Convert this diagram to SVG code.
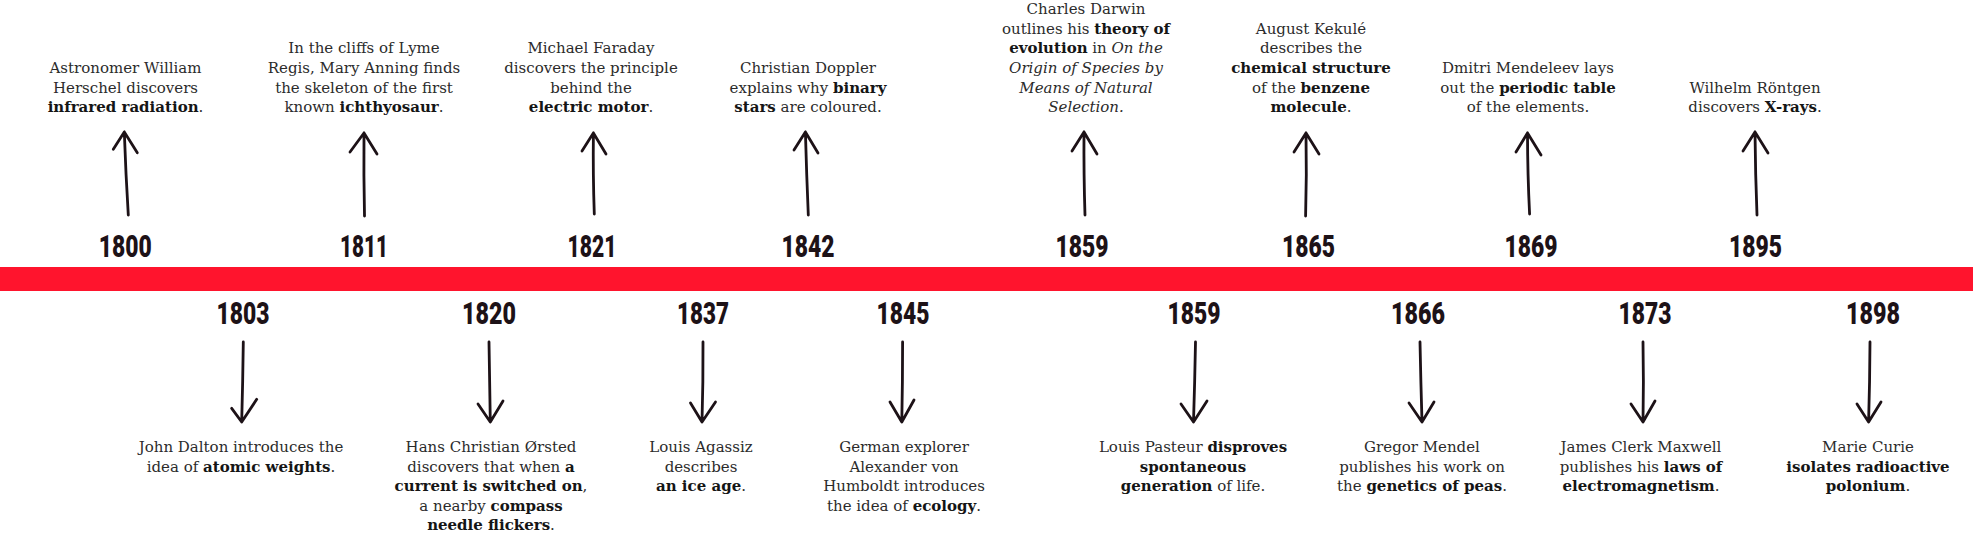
<svg xmlns="http://www.w3.org/2000/svg" width="1973" height="533" viewBox="0 0 1973 533">
<style>
.t{font-family:"DejaVu Serif","Liberation Serif",serif;font-size:15px;fill:#2b2b2b;text-anchor:middle}
.b{font-weight:bold;fill:#151515}
.i{font-style:italic}
.y{font-family:Roboto,"DejaVu Sans",sans-serif;font-weight:900;font-size:31px;fill:#1d1217;text-anchor:middle}
.a{fill:none;stroke:#1d1217;stroke-width:2.8;stroke-linecap:round;stroke-linejoin:round}
</style>
<rect id="timeline" x="0" y="267" width="1973" height="24" fill="#ff142d"/>
<g id="connectors">
<path class="a" d="M128.3,215 Q125.8,175 124.3,132 M113.3,149.3 L124.3,132 L137.3,152.7"/>
<path class="a" d="M364.5,216 Q363.6,175 364,133 M350,152 L364,133 L377,154"/>
<path class="a" d="M594.3,214 Q592.9,175 593.4,133 M582,151 L593.4,133 L606,154"/>
<path class="a" d="M808.3,215 Q806.6,175 805.4,132 M794,150 L805.4,132 L818,153"/>
<path class="a" d="M1085,215 Q1083.7,175 1084,132 M1072,151 L1084,132 L1097,154"/>
<path class="a" d="M1305.6,216 Q1306.8,175 1306,133 M1294,152 L1306,133 L1319,154"/>
<path class="a" d="M1529.6,214 Q1527.6,175 1527.5,133 M1516,152 L1527.5,133 L1541,155"/>
<path class="a" d="M1757,215 Q1755.4,175 1755,132 M1743,151 L1755,132 L1768,153"/>
<path class="a" d="M243.3,342 Q242.8,382 241.7,422 M231.7,408.3 L241.7,422 L256.7,399.3"/>
<path class="a" d="M489,342 Q489.5,382 490.3,422 M478,404 L490.3,422 L503,401"/>
<path class="a" d="M703,342 Q703.2,382 702,422 M690.5,403 L702,422 L715.5,402"/>
<path class="a" d="M902.6,342 Q902.6,382 901.8,422 M890,402 L901.8,422 L914,400"/>
<path class="a" d="M1195.5,342 Q1194.8,382 1193.5,422 M1181,404 L1193.5,422 L1207,401"/>
<path class="a" d="M1420,342 Q1420.8,382 1422,422 M1409,403 L1422,422 L1434,402"/>
<path class="a" d="M1643,342 Q1643.8,382 1643,422 M1631,404 L1643,422 L1655,401"/>
<path class="a" d="M1870,342 Q1869.8,382 1868.6,422 M1857,404 L1868.6,422 L1881,402"/>
</g>
<g id="e1800">
<text class="y" x="125.3" y="256.7" textLength="53" lengthAdjust="spacingAndGlyphs">1800</text>
<text class="t" x="125.5" y="73">Astronomer William</text>
<text class="t" x="125.5" y="92.7">Herschel discovers</text>
<text class="t" x="125.5" y="112.3"><tspan class="b">infrared radiation</tspan>.</text>
</g>
<g id="e1811">
<text class="y" x="364" y="256.7" textLength="48" lengthAdjust="spacingAndGlyphs">1811</text>
<text class="t" x="364" y="53.3">In the cliffs of Lyme</text>
<text class="t" x="364" y="73">Regis, Mary Anning finds</text>
<text class="t" x="364" y="92.7">the skeleton of the first</text>
<text class="t" x="364" y="112.3">known <tspan class="b">ichthyosaur</tspan>.</text>
</g>
<g id="e1821">
<text class="y" x="592" y="256.7" textLength="49" lengthAdjust="spacingAndGlyphs">1821</text>
<text class="t" x="591" y="53.3">Michael Faraday</text>
<text class="t" x="591" y="73">discovers the principle</text>
<text class="t" x="591" y="92.7">behind the</text>
<text class="t" x="591" y="112.3"><tspan class="b">electric motor</tspan>.</text>
</g>
<g id="e1842">
<text class="y" x="808" y="256.7" textLength="53" lengthAdjust="spacingAndGlyphs">1842</text>
<text class="t" x="808" y="73">Christian Doppler</text>
<text class="t" x="808" y="92.7">explains why <tspan class="b">binary</tspan></text>
<text class="t" x="808" y="112.3"><tspan class="b">stars</tspan> are coloured.</text>
</g>
<g id="e1859a">
<text class="y" x="1082" y="256.7" textLength="53" lengthAdjust="spacingAndGlyphs">1859</text>
<text class="t" x="1086" y="14">Charles Darwin</text>
<text class="t" x="1086" y="33.5">outlines his <tspan class="b">theory of</tspan></text>
<text class="t" x="1086" y="53.3"><tspan class="b">evolution</tspan> in <tspan class="i">On the</tspan></text>
<text class="t i" x="1086" y="73">Origin of Species by</text>
<text class="t i" x="1086" y="92.7">Means of Natural</text>
<text class="t i" x="1086" y="112.3">Selection.</text>
</g>
<g id="e1865">
<text class="y" x="1308.5" y="256.7" textLength="53" lengthAdjust="spacingAndGlyphs">1865</text>
<text class="t" x="1311" y="33.5">August Kekulé</text>
<text class="t" x="1311" y="53.3">describes the</text>
<text class="t" x="1311" y="73"><tspan class="b">chemical structure</tspan></text>
<text class="t" x="1311" y="92.7">of the <tspan class="b">benzene</tspan></text>
<text class="t" x="1311" y="112.3"><tspan class="b">molecule</tspan>.</text>
</g>
<g id="e1869">
<text class="y" x="1531" y="256.7" textLength="53" lengthAdjust="spacingAndGlyphs">1869</text>
<text class="t" x="1528" y="73">Dmitri Mendeleev lays</text>
<text class="t" x="1528" y="92.7">out the <tspan class="b">periodic table</tspan></text>
<text class="t" x="1528" y="112.3">of the elements.</text>
</g>
<g id="e1895">
<text class="y" x="1755.6" y="256.7" textLength="53" lengthAdjust="spacingAndGlyphs">1895</text>
<text class="t" x="1755" y="92.7">Wilhelm Röntgen</text>
<text class="t" x="1755" y="112.3">discovers <tspan class="b">X-rays</tspan>.</text>
</g>
<g id="e1803">
<text class="y" x="243" y="324" textLength="53" lengthAdjust="spacingAndGlyphs">1803</text>
<text class="t" x="241" y="452.3">John Dalton introduces the</text>
<text class="t" x="241" y="471.7">idea of <tspan class="b">atomic weights</tspan>.</text>
</g>
<g id="e1820">
<text class="y" x="489" y="324" textLength="54" lengthAdjust="spacingAndGlyphs">1820</text>
<text class="t" x="491" y="452.3">Hans Christian Ørsted</text>
<text class="t" x="491" y="471.7">discovers that when <tspan class="b">a</tspan></text>
<text class="t" x="491" y="491.2"><tspan class="b">current is switched on</tspan>,</text>
<text class="t" x="491" y="510.8">a nearby <tspan class="b">compass</tspan></text>
<text class="t" x="491" y="530.3"><tspan class="b">needle flickers</tspan>.</text>
</g>
<g id="e1837">
<text class="y" x="703" y="324" textLength="52" lengthAdjust="spacingAndGlyphs">1837</text>
<text class="t" x="701" y="452.3">Louis Agassiz</text>
<text class="t" x="701" y="471.7">describes</text>
<text class="t" x="701" y="491.2"><tspan class="b">an ice age</tspan>.</text>
</g>
<g id="e1845">
<text class="y" x="903" y="324" textLength="53" lengthAdjust="spacingAndGlyphs">1845</text>
<text class="t" x="904" y="452.3">German explorer</text>
<text class="t" x="904" y="471.7">Alexander von</text>
<text class="t" x="904" y="491.2">Humboldt introduces</text>
<text class="t" x="904" y="510.8">the idea of <tspan class="b">ecology</tspan>.</text>
</g>
<g id="e1859b">
<text class="y" x="1194" y="324" textLength="53" lengthAdjust="spacingAndGlyphs">1859</text>
<text class="t" x="1193" y="452.3">Louis Pasteur <tspan class="b">disproves</tspan></text>
<text class="t" x="1193" y="471.7"><tspan class="b">spontaneous</tspan></text>
<text class="t" x="1193" y="491.2"><tspan class="b">generation</tspan> of life.</text>
</g>
<g id="e1866">
<text class="y" x="1418" y="324" textLength="54" lengthAdjust="spacingAndGlyphs">1866</text>
<text class="t" x="1422" y="452.3">Gregor Mendel</text>
<text class="t" x="1422" y="471.7">publishes his work on</text>
<text class="t" x="1422" y="491.2">the <tspan class="b">genetics of peas</tspan>.</text>
</g>
<g id="e1873">
<text class="y" x="1645" y="324" textLength="53" lengthAdjust="spacingAndGlyphs">1873</text>
<text class="t" x="1641" y="452.3">James Clerk Maxwell</text>
<text class="t" x="1641" y="471.7">publishes his <tspan class="b">laws of</tspan></text>
<text class="t" x="1641" y="491.2"><tspan class="b">electromagnetism</tspan>.</text>
</g>
<g id="e1898">
<text class="y" x="1873" y="324" textLength="54" lengthAdjust="spacingAndGlyphs">1898</text>
<text class="t" x="1868" y="452.3">Marie Curie</text>
<text class="t" x="1868" y="471.7"><tspan class="b">isolates radioactive</tspan></text>
<text class="t" x="1868" y="491.2"><tspan class="b">polonium</tspan>.</text>
</g>
</svg>
